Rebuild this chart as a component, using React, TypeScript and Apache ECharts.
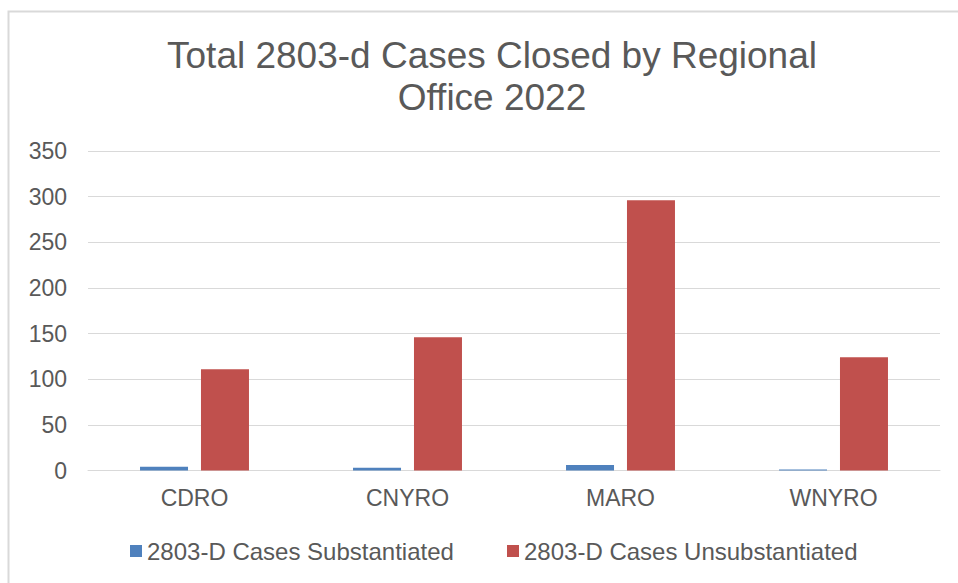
import React, { useEffect, useRef } from "react";
import * as echarts from "echarts";

const categories = ["CDRO", "CNYRO", "MARO", "WNYRO"];
const substantiated = [4, 3, 6, 1];
const unsubstantiated = [111, 146, 296, 124];
const seriesNames = ["2803-D Cases Substantiated", "2803-D Cases Unsubstantiated"];
const titleText = "Total 2803-d Cases Closed by Regional\nOffice 2022";

const FONT = "'Liberation Sans', Arial, sans-serif";
const TXT = "#595959";

export default function App() {
  const ref = useRef<HTMLDivElement>(null);
  useEffect(() => {
    if (!ref.current) return;
    const chart = echarts.init(ref.current, undefined, { renderer: "svg" });
    const legendText = { fontFamily: FONT, fontSize: 24, color: TXT };
    chart.setOption({
      animation: false,
      backgroundColor: "#ffffff",
      textStyle: { fontFamily: FONT },
      title: {
        text: titleText,
        left: 487,
        top: 29,
        textAlign: "center",
        textStyle: {
          fontFamily: FONT,
          fontSize: 37,
          fontWeight: "normal",
          color: TXT,
          lineHeight: 42,
        },
      },
      graphic: [
        {
          type: "rect",
          shape: { x: 8.5, y: 11.5, width: 1000, height: 700 },
          style: { fill: "none", stroke: "#d9d9d9", lineWidth: 2 },
          silent: true,
          z: -1,
        },
      ],
      legend: [
        {
          data: [seriesNames[0]],
          left: 125,
          top: 534,
          itemWidth: 12,
          itemHeight: 12,
          icon: "rect",
          textStyle: legendText,
        },
        {
          data: [seriesNames[1]],
          left: 502,
          top: 534,
          itemWidth: 12,
          itemHeight: 12,
          icon: "rect",
          textStyle: legendText,
        },
      ],
      grid: { left: 88, right: 18, top: 151, bottom: 112.5, containLabel: false },
      xAxis: {
        type: "category",
        data: categories,
        axisLine: { show: true, lineStyle: { color: "#d9d9d9", width: 1 } },
        axisTick: { show: false },
        axisLabel: { fontFamily: FONT, fontSize: 23, color: TXT, margin: 16 },
      },
      yAxis: {
        type: "value",
        min: 0,
        max: 350,
        interval: 50,
        axisLine: { show: false },
        axisTick: { show: false },
        splitLine: { lineStyle: { color: "#d9d9d9", width: 1 } },
        axisLabel: { fontFamily: FONT, fontSize: 23, color: TXT, margin: 21 },
      },
      series: [
        {
          name: seriesNames[0],
          type: "bar",
          data: substantiated,
          barWidth: 48,
          barGap: "27%",
          itemStyle: { color: "#4f81bd" },
        },
        {
          name: seriesNames[1],
          type: "bar",
          data: unsubstantiated,
          barWidth: 48,
          barGap: "27%",
          itemStyle: { color: "#c0504d" },
        },
      ],
    });
    return () => chart.dispose();
  }, []);
  return (
    <div
      ref={ref}
      style={{ position: "absolute", left: 0, top: 0, width: 958, height: 583 }}
    />
  );
}
